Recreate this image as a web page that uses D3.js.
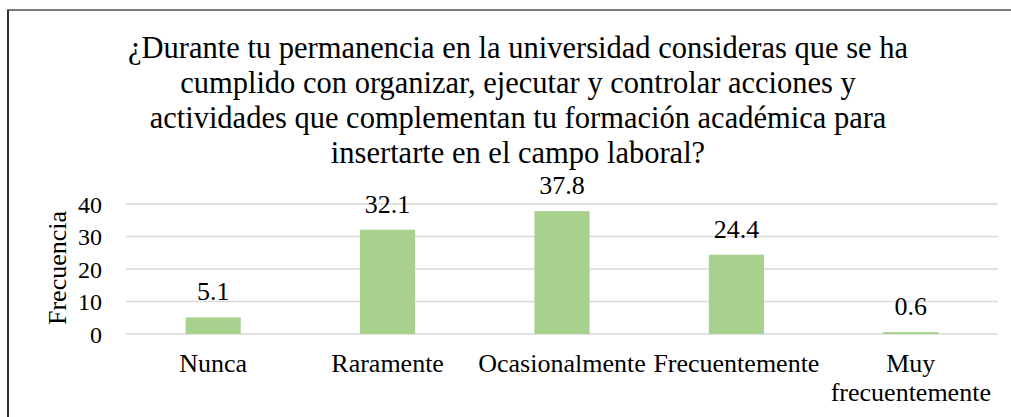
<!DOCTYPE html>
<html>
<head>
<meta charset="utf-8">
<script src="https://cdn.jsdelivr.net/npm/d3@7"></script>
<style>
  body { margin: 0; background: #fff; }
</style>
</head>
<body>
<svg width="1011" height="417"></svg>
<script>
// data
var categories = ['Nunca', 'Raramente', 'Ocasionalmente', 'Frecuentemente', 'Muy frecuentemente'];
var values = [5.1, 32.1, 37.8, 24.4, 0.6];
var yTicks = [0, 10, 20, 30, 40];
var titleLines = [
  '¿Durante tu permanencia en la universidad consideras que se ha',
  'cumplido con organizar, ejecutar y controlar acciones y',
  'actividades que complementan tu formación académica para',
  'insertarte en el campo laboral?'
];

var serif = '"Times New Roman", "Liberation Serif", serif';
var svg = d3.select('svg').attr('font-family', serif);

// frame of the chart area (runs off the right and bottom of the picture)
svg.append('rect')
  .attr('x', 8).attr('y', 10)
  .attr('width', 1100).attr('height', 500)
  .attr('fill', 'none')
  .attr('stroke', '#7a7a7a')
  .attr('stroke-width', 2);
svg.append('line')
  .attr('x1', 8).attr('x2', 8).attr('y1', 10).attr('y2', 417)
  .attr('stroke', '#333').attr('stroke-width', 2);

// title
svg.append('text')
  .attr('text-anchor', 'middle')
  .attr('font-family', serif)
  .attr('font-size', 30.5)
  .attr('fill', '#000')
  .selectAll('tspan')
  .data(titleLines)
  .enter()
  .append('tspan')
  .attr('x', 518)
  .attr('y', (d, i) => 58 + i * 35)
  .text(d => d);

var x = d3.scaleBand()
  .domain(categories)
  .range([126, 998])
  .paddingInner(0.684)
  .paddingOuter(0.342);

var y = d3.scaleLinear()
  .domain([0, 40])
  .range([334, 204]);

// gridlines
svg.append('g')
  .selectAll('line')
  .data(yTicks)
  .enter()
  .append('line')
  .attr('x1', 126).attr('x2', 998)
  .attr('y1', d => y(d)).attr('y2', d => y(d))
  .attr('stroke', '#d9d9d9')
  .attr('stroke-width', 1.5);

// y axis labels
var yAxis = svg.append('g')
  .attr('transform', 'translate(102,0)')
  .call(d3.axisLeft(y).tickValues(yTicks).tickSize(0).tickPadding(0));
yAxis.attr('font-family', serif);
yAxis.select('.domain').remove();
yAxis.selectAll('text')
  .attr('font-family', serif)
  .attr('font-size', 24)
  .attr('fill', '#000')
  .attr('dy', '0.34em');

// axis title
svg.append('text')
  .attr('transform', 'translate(66,268) rotate(-90)')
  .attr('text-anchor', 'middle')
  .attr('font-family', serif)
  .attr('font-size', 26)
  .text('Frecuencia');

// bars
svg.append('g')
  .selectAll('rect')
  .data(values)
  .enter()
  .append('rect')
  .attr('x', (d, i) => x(categories[i]))
  .attr('y', d => y(d))
  .attr('width', x.bandwidth())
  .attr('height', d => y(0) - y(d))
  .attr('fill', '#a9d18e');

// value labels
svg.append('g')
  .selectAll('text')
  .data(values)
  .enter()
  .append('text')
  .attr('x', (d, i) => x(categories[i]) + x.bandwidth() / 2)
  .attr('y', d => y(d) - 17)
  .attr('text-anchor', 'middle')
  .attr('font-family', serif)
  .attr('font-size', 26)
  .text(d => d.toFixed(1));

// category labels, wrapped like the original
var catLines = { 'Muy frecuentemente': ['Muy', 'frecuentemente'] };
var xAxis = svg.append('g')
  .attr('transform', 'translate(0,334)')
  .call(d3.axisBottom(x).tickSize(0).tickPadding(0));
xAxis.attr('font-family', serif);
xAxis.select('.domain').remove();
xAxis.selectAll('text').remove();
xAxis.selectAll('.tick')
  .append('text')
  .attr('text-anchor', 'middle')
  .attr('font-family', serif)
  .attr('font-size', 26)
  .attr('fill', '#000')
  .selectAll('tspan')
  .data(d => catLines[d] || [d])
  .enter()
  .append('tspan')
  .attr('x', 0)
  .attr('y', (d, i) => 38 + i * 29)
  .text(d => d);
</script>
</body>
</html>
